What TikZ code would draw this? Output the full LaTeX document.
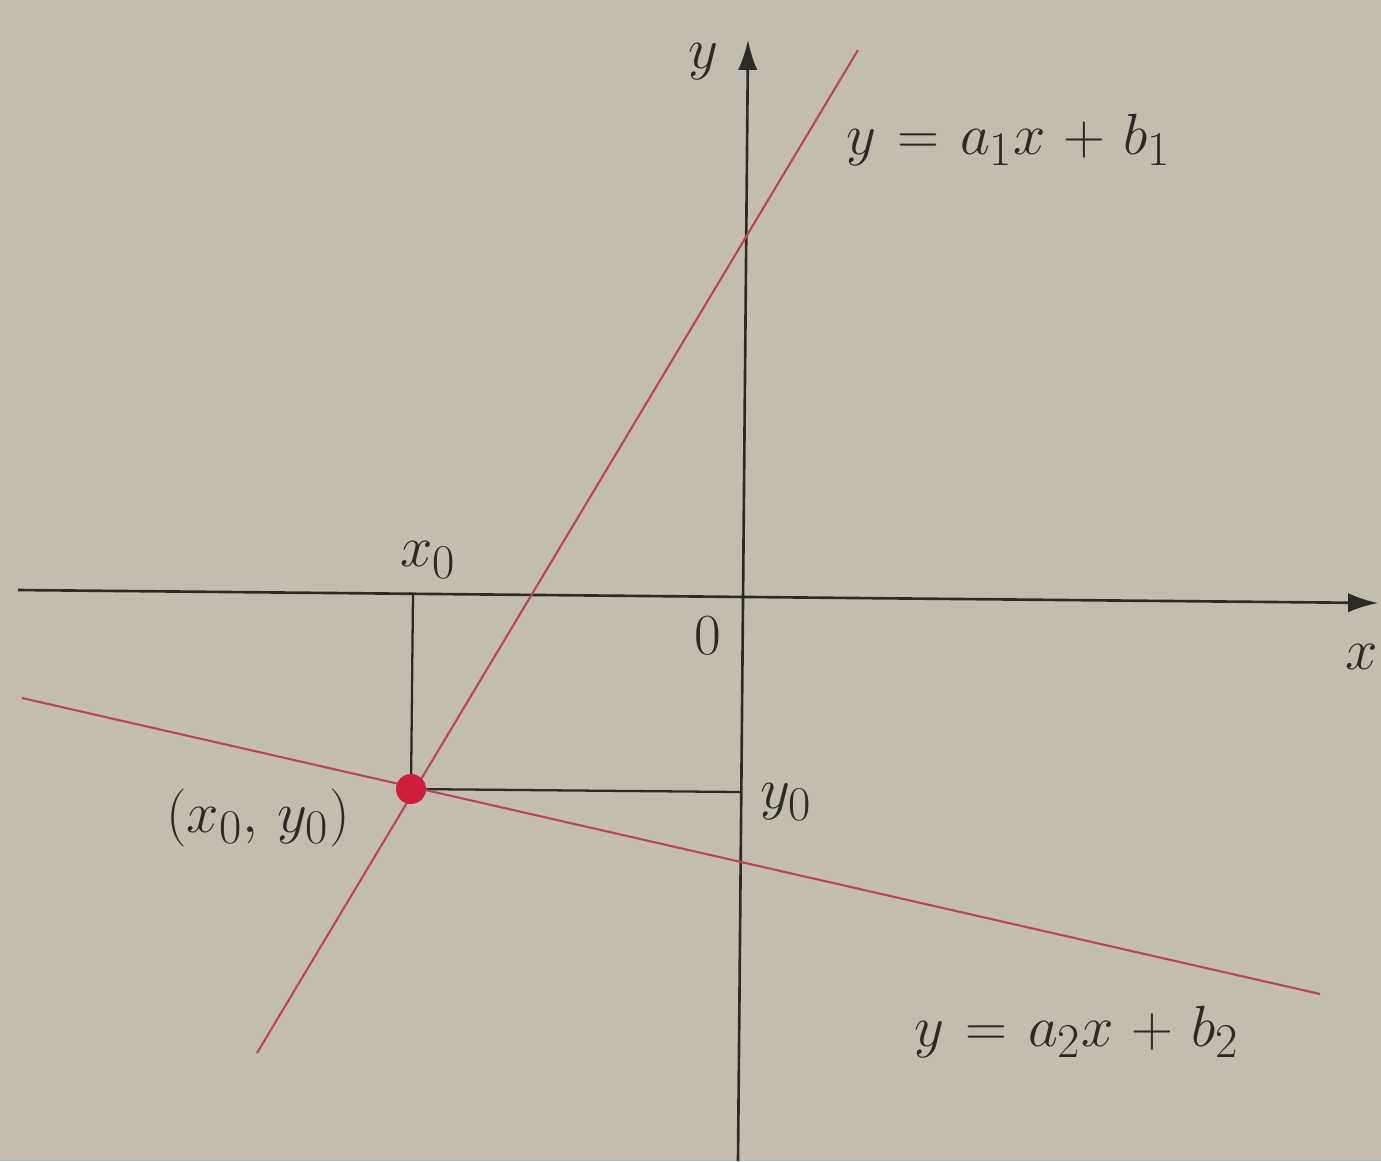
\documentclass[tikz,border=0pt]{standalone}
\usepackage{graphicx}
\usetikzlibrary{arrows.meta}
\definecolor{paper}{RGB}{194,189,174}
\definecolor{ink}{RGB}{45,42,38}
\definecolor{redline}{RGB}{185,70,85}
\definecolor{reddot}{RGB}{205,30,60}
\newcommand{\gp}{\mskip1.5mu}
\newcommand{\lblmath}[1]{\scalebox{1.33}{\fontsize{24.88}{30}\selectfont$#1$}}
\begin{document}
\begin{tikzpicture}[x=0.02cm,y=-0.02cm,
  axis/.style={draw=ink,line width=1.5pt,-{Latex[length=17pt,width=11pt]}},
  guide/.style={draw=ink,line width=1.3pt},
  graph/.style={draw=redline,line width=1.2pt},
  lbl/.style={text=ink,inner sep=0pt}]
\fill[paper] (0,0) rectangle (1381,1161);
\useasboundingbox (0,0) rectangle (1381,1161);
% axes
\coordinate (xl) at (18,590);
\coordinate (xr) at (1378,603);
\coordinate (yb) at (738,1161);
\coordinate (yt) at (748,40);
\draw[axis] (xl) -- (xr);
\draw[axis] (yb) -- (yt);
% key points
\coordinate (P) at (411,789);
\coordinate (X0) at (413,594);
\coordinate (Y0) at (741,792);
\draw[guide] (X0) -- (P);
\draw[guide] (P) -- (Y0);
% lines
\coordinate (l1a) at (257,1053);
\coordinate (l1b) at (858,50);
\coordinate (l2a) at (22,698);
\coordinate (l2b) at (1320,994);
\draw[graph] (l1a) -- (l1b);
\draw[graph] (l2a) -- (l2b);
\fill[reddot] (P) circle (15);
% labels
\node[lbl] (ly) at (703,62) {\lblmath{y}};
\node[lbl] (lx) at (1362,657) {\lblmath{x}};
\node[lbl] (lo) at (708,636) {\lblmath{0}};
\node[lbl] (lx0) at (428,560) {\lblmath{x_0}};
\node[lbl] (ly0) at (786,802) {\lblmath{y_0}};
\node[lbl] (lp) at (258,818) {\lblmath{(x_0,\, y_0)}};
\node[lbl,anchor=west] (le1) at (846,140) {\lblmath{y \gp=\gp a_1x \gp+\gp b_1}};
\node[lbl,anchor=west] (le2) at (914,1032) {\lblmath{y \gp=\gp a_2x \gp+\gp b_2}};
\end{tikzpicture}
\end{document}
